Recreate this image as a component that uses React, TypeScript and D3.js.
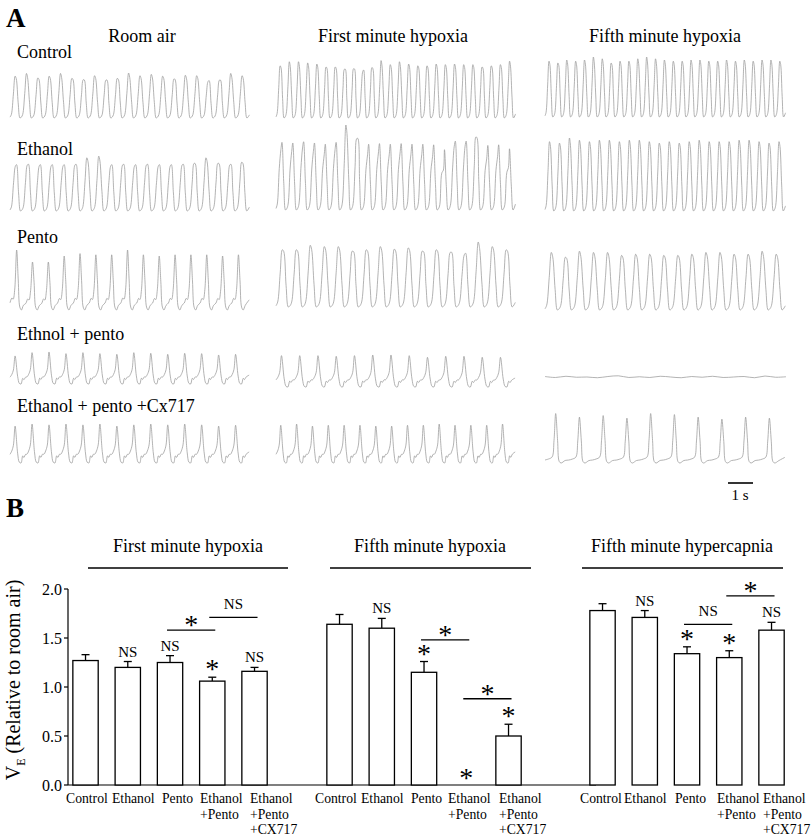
import React from 'react';
import * as d3 from 'd3';

// ---------- Panel A data (relative breath peak amplitudes) ----------
const columnTitles = ['Room air', 'First minute hypoxia', 'Fifth minute hypoxia'];
const rowLabels = ['Control', 'Ethanol', 'Pento', 'Ethnol + pento', 'Ethanol + pento +Cx717'];

const controlRoomAir = [0.93, 0.99, 0.89, 0.93, 0.99, 0.88, 0.85, 0.94, 0.84, 0.88, 1.0, 0.94, 0.97, 0.93, 0.87, 0.95, 0.94, 0.81, 0.84, 0.99, 0.94];
const controlFirst = [0.9, 0.97, 0.97, 0.95, 0.93, 0.88, 0.88, 0.84, 0.85, 0.8, 0.87, 0.99, 0.92, 0.97, 0.93, 0.9, 0.9, 0.93, 0.92, 0.93, 0.92, 0.92, 0.88, 0.9, 0.92, 0.98];
const controlFifth = [0.93, 0.9, 0.95, 0.93, 0.95, 1.0, 0.97, 0.9, 0.93, 0.93, 0.97, 1.0, 0.97, 0.95, 0.93, 0.93, 0.95, 0.95, 0.93, 0.93, 0.95, 0.93, 0.95, 0.93, 0.95, 0.95, 0.93];
const ethanolRoomAir = [0.8, 0.82, 0.8, 0.8, 0.8, 0.82, 0.95, 0.98, 0.8, 0.82, 0.8, 0.82, 0.8, 0.8, 0.82, 0.85, 0.95, 0.85, 0.82, 0.87];
const ethanolFirst = [0.71, 0.69, 0.73, 0.69, 0.65, 0.71, 1.0, 0.84, 0.65, 0.67, 0.65, 0.67, 0.65, 0.65, 0.63, 0.47, 0.75, 0.75, 0.86, 0.61, 0.63, 0.5];
const ethanolFifth = [0.95, 0.93, 1.0, 0.97, 0.95, 0.97, 0.97, 0.95, 0.97, 0.97, 0.95, 0.93, 0.95, 0.93, 0.95, 0.97, 0.95, 0.95, 0.95, 0.97, 0.97, 0.95, 0.93, 0.95];
const pentoRoomAir = [1.0, 0.8, 0.8, 0.9, 0.94, 0.92, 0.92, 1.0, 0.92, 0.9, 0.92, 0.92, 0.92, 0.9, 0.92];
const pentoFirst = [0.88, 0.88, 0.95, 0.93, 0.93, 0.86, 0.88, 0.93, 0.89, 0.91, 0.86, 0.88, 0.84, 0.8, 1.0, 0.93, 0.88];
const pentoFifth = [0.96, 0.88, 0.98, 0.96, 0.96, 0.91, 0.93, 0.93, 0.91, 0.91, 0.93, 0.96, 0.96, 0.93, 0.93, 0.98, 0.93];
const ethPentoRoomAir = [0.85, 0.95, 0.97, 0.92, 0.95, 0.92, 0.9, 0.95, 0.93, 0.9, 0.93, 0.92, 0.88, 0.9];
const ethPentoFirst = [0.95, 0.95, 0.95, 0.93, 0.95, 0.97, 0.97, 0.95, 0.9, 0.93, 0.93, 0.9, 0.9];
const ethPentoFifth = [0.02, -0.02, 0.03, -0.01, 0.0, -0.03, 0.02, 0.05, -0.02, 0.01, -0.02, 0.03, 0.0, -0.03, 0.02, -0.01, 0.03, -0.02, 0.0, 0.02, -0.03, 0.04, -0.01, 0.01];
const cxRoomAir = [0.9, 0.95, 0.93, 0.95, 0.93, 0.95, 0.9, 0.93, 0.95, 0.93, 0.95, 0.93, 0.9, 0.92];
const cxFirst = [0.92, 0.95, 0.9, 0.92, 0.92, 0.92, 0.9, 0.9, 0.92, 0.92, 0.95, 0.92, 0.92, 0.92, 0.95];
const cxFifth = [0.97, 0.9, 0.93, 0.88, 0.97, 0.95, 0.9, 0.86, 0.9, 0.88];

const traceData: number[][][] = [
  [controlRoomAir, controlFirst, controlFifth],
  [ethanolRoomAir, ethanolFirst, ethanolFifth],
  [pentoRoomAir, pentoFirst, pentoFifth],
  [ethPentoRoomAir, ethPentoFirst, ethPentoFifth],
  [cxRoomAir, cxFirst, cxFifth],
];

// ---------- Panel B data ----------
const groupTitles = ['First minute hypoxia', 'Fifth minute hypoxia', 'Fifth minute hypercapnia'];
const barCategories = ['Control', 'Ethanol', 'Pento', 'Ethanol|+Pento', 'Ethanol|+Pento|+CX717'];
const firstHypoxiaMean = [1.27, 1.2, 1.25, 1.06, 1.16];
const firstHypoxiaErr = [0.06, 0.06, 0.07, 0.04, 0.04];
const fifthHypoxiaMean = [1.64, 1.6, 1.15, 0, 0.5];
const fifthHypoxiaErr = [0.1, 0.1, 0.11, 0, 0.12];
const hypercapniaMean = [1.78, 1.71, 1.34, 1.3, 1.58];
const hypercapniaErr = [0.07, 0.07, 0.07, 0.07, 0.08];
const yTicks = [0, 0.5, 1.0, 1.5, 2.0];
const barMarks = [
  ['', 'NS', 'NS', '*', 'NS'],
  ['', 'NS', '*', '*', '*'],
  ['', 'NS', '*', '*', 'NS'],
];
// brackets: [group, fromIndex, toIndex, level, label]
const brackets: [number, number, number, number, string][] = [
  [0, 2, 3, 1.58, '*'],
  [0, 3, 4, 1.71, 'NS'],
  [1, 2, 3, 1.48, '*'],
  [1, 3, 4, 0.88, '*'],
  [2, 2, 3, 1.64, 'NS'],
  [2, 3, 4, 1.93, '*'],
];

const FONT = '"Liberation Serif", "Times New Roman", serif';
const TRACE = '#9a9a9a';

// ---------- trace layout ----------
const colX: [number, number][] = [[10, 250], [276, 516], [545, 786]];
const rowY: [number, number][][] = [
  [[73, 118], [60, 118], [57, 117]],
  [[155, 211], [125, 210], [138, 211]],
  [[250, 310], [242, 307], [250, 310]],
  [[351, 384], [354, 387], [377, 377]],
  [[422, 463], [422, 463], [412, 463]],
];
type Tpl = [number, number][];
const tplSine: Tpl = [[0, 0.02], [0.12, 0.08], [0.3, 0.55], [0.45, 1], [0.55, 0.9], [0.72, 0.35], [0.88, 0.0]];
const tplPento: Tpl = [[0, 0.12], [0.12, 0.2], [0.2, 0.18], [0.3, 0.35], [0.42, 1], [0.52, 0.5], [0.62, 0.05], [0.72, 0.0], [0.85, 0.08]];
const tplSpike: Tpl = [[0, 0.22], [0.1, 0.3], [0.2, 0.45], [0.3, 1], [0.45, 0.25], [0.55, 0.02], [0.65, 0.0], [0.75, 0.18], [0.82, 0.14], [0.92, 0.22]];
const tplNarrow: Tpl = [[0, 0.06], [0.15, 0.08], [0.3, 0.12], [0.38, 0.45], [0.45, 1], [0.53, 0.45], [0.6, 0.03], [0.68, 0.0], [0.85, 0.05]];
const rowTemplates: Tpl[][] = [
  [tplSine, tplSine, tplSine],
  [tplSine, tplSine, tplSine],
  [tplPento, tplSine, tplSine],
  [tplSpike, tplSpike, tplSine],
  [tplSpike, tplSpike, tplNarrow],
];

// x-axis label left positions per group (layout)
const labelLeft = [
  [66, 112, 162, 200, 250],
  [315, 361, 411, 448, 499],
  [580, 624, 675, 717, 763],
];

function tracePath(vals: number[], tpl: Tpl, x0: number, x1: number, yTop: number, yBot: number, flat: boolean) {
  const n = vals.length;
  const x = d3.scaleLinear().domain([0, n + 0.15]).range([x0, x1]);
  const y = flat
    ? d3.scaleLinear().domain([-1, 1]).range([yTop + 4, yTop - 4])
    : d3.scaleLinear().domain([0, 1]).range([yBot, yTop]);
  const pts: [number, number][] = [];
  if (flat) {
    const xf = d3.scaleLinear().domain([0, n - 1]).range([x0, x1]);
    vals.forEach((v, i) => pts.push([xf(i), y(v * 6)]));
    return d3.line().curve(d3.curveCatmullRom)(pts) || '';
  }
  vals.forEach((a, i) => {
    tpl.forEach(([t, v]) => {
      const vv = v >= 0.99 ? a : v * (0.6 + 0.4 * a);
      pts.push([x(i + t), y(vv)]);
    });
  });
  pts.push([x(n + 0.1), y(tpl[0][1] + 0.05)]);
  return d3.line().curve(d3.curveCatmullRom.alpha(0.5))(pts) || '';
}

export default function App() {
  const W = 812, H = 837;
  const y = d3.scaleLinear().domain([0, 2]).range([785, 589]);
  const groupStarts = [64.4, 318.4, 581.4];
  const step = 42.25;
  const groupsData = [
    [firstHypoxiaMean, firstHypoxiaErr],
    [fifthHypoxiaMean, fifthHypoxiaErr],
    [hypercapniaMean, hypercapniaErr],
  ];
  const xs = groupStarts.map((s) =>
    d3.scaleBand<string>().domain(barCategories).range([s, s + step * 5]).paddingInner(0.4).paddingOuter(0.2)
  );
  const titleCx = [188, 430, 682];
  const titleLine: [number, number][] = [[88, 288], [330, 531], [582, 783]];
  const starFs = 28;

  const star = (cx: number, cy: number, key: string) => (
    <text key={key} x={cx} y={cy + starFs * 0.5} textAnchor="middle" fontSize={starFs} fontFamily={FONT}>*</text>
  );

  return (
    <svg width={W} height={H} style={{ display: 'block', position: 'absolute', left: 0, top: 0 }}>
      <rect width={W} height={H} fill="white" />
      {/* Panel A */}
      <text x={6} y={27} fontSize={27} fontWeight="bold" fontFamily={FONT}>A</text>
      {columnTitles.map((t, i) => (
        <text key={t} x={[142, 393, 665][i]} y={42} textAnchor="middle" fontSize={18} fontFamily={FONT}>{t}</text>
      ))}
      {rowLabels.map((t, i) => (
        <text key={t} x={17} y={[58, 155, 243, 340, 412][i]} fontSize={18} fontFamily={FONT}>{t}</text>
      ))}
      {traceData.map((row, r) =>
        row.map((vals, c) => (
          <path
            key={`${r}-${c}`}
            d={tracePath(vals, rowTemplates[r][c], colX[c][0], colX[c][1], rowY[r][c][0], rowY[r][c][1], r === 3 && c === 2)}
            fill="none"
            stroke={TRACE}
            strokeWidth={0.75}
          />
        ))
      )}
      {/* scale bar */}
      <line x1={728} x2={753} y1={483} y2={483} stroke="black" strokeWidth={1.6} />
      <text x={740} y={500} textAnchor="middle" fontSize={15} fontFamily={FONT}>1 s</text>

      {/* Panel B */}
      <text x={6} y={517} fontSize={27} fontWeight="bold" fontFamily={FONT}>B</text>
      {groupTitles.map((t, i) => (
        <g key={t}>
          <text x={titleCx[i]} y={552} textAnchor="middle" fontSize={18} fontFamily={FONT}>{t}</text>
          <line x1={titleLine[i][0]} x2={titleLine[i][1]} y1={568} y2={568} stroke="black" strokeWidth={1.3} />
        </g>
      ))}
      {/* y axis */}
      <line x1={68} x2={68} y1={y(2)} y2={y(0)} stroke="black" strokeWidth={1.2} />
      <line x1={68} x2={596} y1={y(0)} y2={y(0)} stroke="black" strokeWidth={1.2} />
      {yTicks.map((t) => (
        <g key={t}>
          <line x1={64} x2={68} y1={y(t)} y2={y(t)} stroke="black" strokeWidth={1.2} />
          <text x={62} y={y(t) + 5.5} textAnchor="end" fontSize={16} fontFamily={FONT}>{t.toFixed(1)}</text>
        </g>
      ))}
      <text transform={`translate(20,680) rotate(-90)`} textAnchor="middle" fontSize={20} fontFamily={FONT}>
        V<tspan fontSize={12} dy={5}>E</tspan><tspan dy={-5}> (Relative to room air)</tspan>
      </text>

      {groupsData.map(([means, errs], g) => {
        const xb = xs[g];
        const bw = xb.bandwidth();
        return (
          <g key={g}>
            {barCategories.map((cat, i) => {
              const cx = (xb(cat) || 0) + bw / 2;
              const m = means[i];
              const e = errs[i];
              const errTop = y(m + e);
              const lines = cat.split('|');
              const mark = barMarks[g][i];
              return (
                <g key={cat}>
                  {m > 0 && (
                    <>
                      <line x1={cx} x2={cx} y1={y(m)} y2={errTop} stroke="black" strokeWidth={1.3} />
                      <line x1={cx - 4} x2={cx + 4} y1={errTop} y2={errTop} stroke="black" strokeWidth={1.3} />
                      <rect x={xb(cat)} y={y(m)} width={bw} height={y(0) - y(m)} fill="white" stroke="black" strokeWidth={1.3} />
                    </>
                  )}
                  {lines.map((l, k) => (
                    <text key={k} x={labelLeft[g][i]} y={803 + k * 15.5} fontSize={13.7} fontFamily={FONT}>{l}</text>
                  ))}
                  {mark === 'NS' && (
                    <text x={cx} y={errTop - 5} textAnchor="middle" fontSize={15} fontFamily={FONT}>NS</text>
                  )}
                  {mark === '*' && star(cx, m > 0 ? errTop - 13 : y(0) - 12, 's')}
                </g>
              );
            })}
          </g>
        );
      })}
      {brackets.map(([g, a, b, lvl, lab], k) => {
        const xb = xs[g];
        const bw = xb.bandwidth();
        const xa = (xb(barCategories[a]) || 0) + bw / 2 - 3;
        const xe = (xb(barCategories[b]) || 0) + bw / 2 + 3;
        const ly = y(lvl);
        const mid = (xa + xe) / 2;
        return (
          <g key={k}>
            <line x1={xa} x2={xe} y1={ly} y2={ly} stroke="black" strokeWidth={1.3} />
            {lab === 'NS' ? (
              <text x={mid} y={ly - 8} textAnchor="middle" fontSize={15} fontFamily={FONT}>NS</text>
            ) : (
              star(mid, ly - 10, 'b')
            )}
          </g>
        );
      })}
    </svg>
  );
}
